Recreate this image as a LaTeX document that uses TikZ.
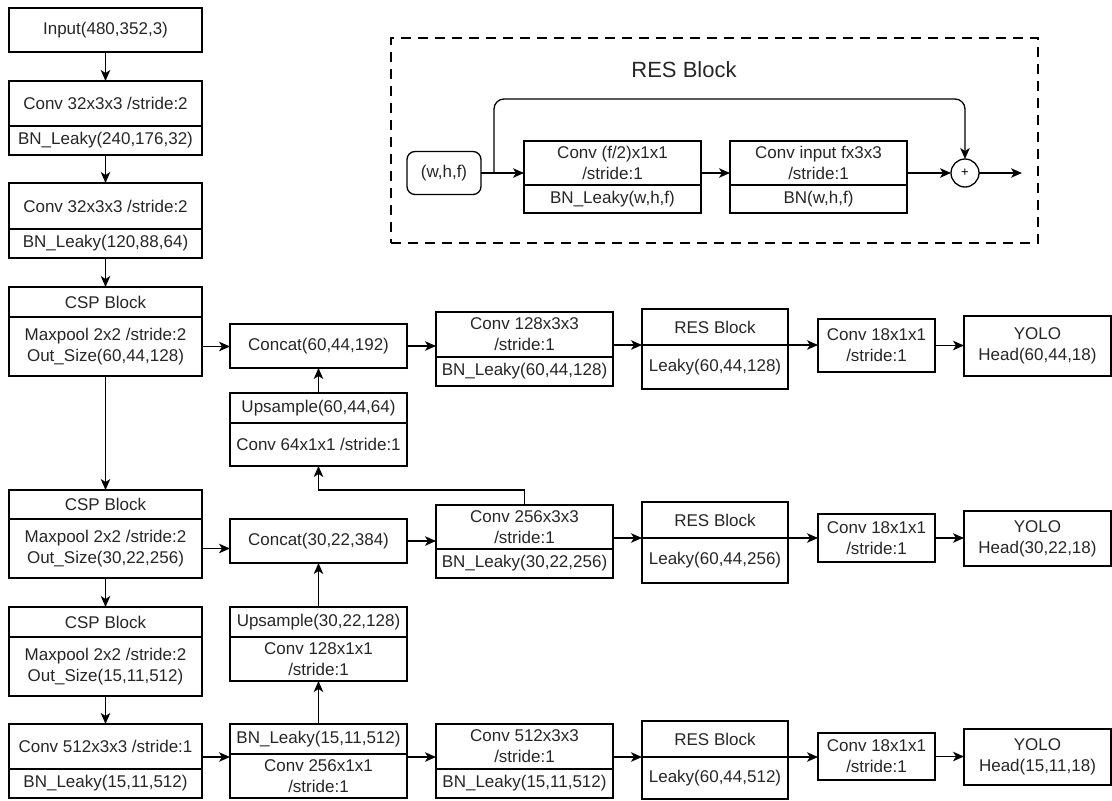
\documentclass[tikz,border=0pt]{standalone}
\usepackage{fontspec}
\setmainfont{Liberation Sans}
\usetikzlibrary{arrows.meta}

% a box split by one horizontal rule: name, x1, y1, y of rule, x2, y2, upper text, lower text
\newcommand\partbox[8]{%
  \node[box, minimum width={(#5-#2)*1pt}, minimum height={(#6-#3)*1pt}] (#1) at ({(#2+#5)/2},{(#3+#6)/2}) {};
  \coordinate (#1-d) at (#2,#4);
  \draw[rule] (#1-d) -- (#1.east |- #1-d);
  \node[lbl] (#1-t) at ({(#2+#5)/2},{(#3+#4)/2}) {#7};
  \node[lbl] (#1-b) at ({(#2+#5)/2},{(#4+#6)/2}) {#8};
}
% a plain box: name, x1, y1, x2, y2, text
\newcommand\plainbox[6]{%
  \node[box, lbl, minimum width={(#4-#2)*1pt}, minimum height={(#5-#3)*1pt}] (#1) at ({(#2+#4)/2},{(#3+#5)/2}) {#6};
}

\begin{document}
\begin{tikzpicture}[x=1pt, y=-1pt,
  box/.style={draw, line width=1.3pt, rectangle, inner sep=0pt, outer sep=0pt},
  rule/.style={line width=1.3pt},
  lbl/.style={font=\fontsize{17}{21}\selectfont, align=center, inner sep=0pt, text=black!85},
  arr/.style={line width=1.3pt, -{Stealth[length=11pt, width=9.5pt, inset=3pt]}},
]
\useasboundingbox (0,0) rectangle (1112,801);

% ---------------- backbone ----------------
\plainbox{in}{9}{8}{202}{52}{Input(480,352,3)}
\partbox{c1}{9}{81}{126}{202}{155}{Conv 32x3x3 /stride:2}{BN\_Leaky(240,176,32)}
\partbox{c2}{9}{183}{229}{202}{258}{Conv 32x3x3 /stride:2}{BN\_Leaky(120,88,64)}
\partbox{csp1}{9}{287}{317}{202}{376}{CSP Block}{Maxpool 2x2 /stride:2\\Out\_Size(60,44,128)}
\partbox{csp2}{9}{490}{519}{202}{578}{CSP Block}{Maxpool 2x2 /stride:2\\Out\_Size(30,22,256)}
\partbox{csp3}{9}{607}{637}{202}{696}{CSP Block}{Maxpool 2x2 /stride:2\\Out\_Size(15,11,512)}
\partbox{c512}{9}{724}{769}{202}{798}{Conv 512x3x3 /stride:1}{BN\_Leaky(15,11,512)}

% ---------------- neck ----------------
\plainbox{cat1}{230}{324}{407}{368}{Concat(60,44,192)}
\partbox{up1}{230}{393}{423}{407}{466}{Upsample(60,44,64)}{Conv 64x1x1 /stride:1}
\plainbox{cat2}{230}{519}{407}{563}{Concat(30,22,384)}
\partbox{up2}{230}{607}{637}{407}{681}{Upsample(30,22,128)}{Conv 128x1x1\\/stride:1}
\partbox{bn}{230}{724}{754}{407}{798}{BN\_Leaky(15,11,512)}{Conv 256x1x1\\/stride:1}

\partbox{cv128}{436}{312}{357}{613}{386}{Conv 128x3x3\\/stride:1}{BN\_Leaky(60,44,128)}
\partbox{cv256}{436}{505}{549}{613}{578}{Conv 256x3x3\\/stride:1}{BN\_Leaky(30,22,256)}
\partbox{cv512}{436}{724}{769}{613}{798}{Conv 512x3x3\\/stride:1}{BN\_Leaky(15,11,512)}

% ---------------- heads ----------------
\partbox{res1}{642}{309}{345}{788}{389}{RES Block}{Leaky(60,44,128)}
\partbox{res2}{642}{502}{538}{788}{583}{RES Block}{Leaky(60,44,256)}
\partbox{res3}{642}{721}{757}{788}{799}{RES Block}{Leaky(60,44,512)}

\plainbox{h1c}{818}{319}{935}{372}{Conv 18x1x1\\/stride:1}
\plainbox{h2c}{818}{514}{935}{562}{Conv 18x1x1\\/stride:1}
\plainbox{h3c}{818}{733}{935}{780}{Conv 18x1x1\\/stride:1}

\plainbox{y1}{964}{316}{1111}{376}{YOLO\\Head(60,44,18)}
\plainbox{y2}{964}{511}{1111}{566}{YOLO\\Head(30,22,18)}
\plainbox{y3}{964}{729}{1111}{785}{YOLO\\Head(15,11,18)}

% ---------------- backbone connectors ----------------
\draw[arr] (in) -- (c1);
\draw[arr] (c1) -- (c2);
\draw[arr] (c2) -- (csp1);
\draw[arr] (csp1) -- (csp2);
\draw[arr] (csp2) -- (csp3);
\draw[arr] (csp3) -- (c512);

% ---------------- neck connectors ----------------
\coordinate (row3) at (0,757);
\draw[arr] (csp1.east |- csp1-b) -- (cat1.west |- csp1-b);
\draw[arr] (csp2.east |- csp2-b) -- (cat2.west |- csp2-b);
\draw[arr] (c512.east |- row3) -- (bn.west |- row3);
\draw[arr] (cat1) -- (cv128.west |- cat1);
\draw[arr] (cat2) -- (cv256.west |- cat2);
\draw[arr] (bn.east |- row3) -- (cv512.west |- row3);
\draw[arr] (up1) -- (cat1);
\draw[arr] (up2) -- (cat2);
\draw[arr] (bn) -- (up2);
\draw[arr] (cv256.north) -- ++(0,-15) -| (up1.south);

% ---------------- head connectors ----------------
\draw[arr] (cv128.east |- res1-d) -- (res1-d);
\draw[arr] (res1-d) -- (h1c.west |- res1-d);
\draw[arr] (h1c.east) -- (y1.west |- h1c.east);
\draw[arr] (cv256.east |- res2-d) -- (res2-d);
\draw[arr] (res2-d) -- (h2c.west |- res2-d);
\draw[arr] (h2c.east) -- (y2.west |- h2c.east);
\draw[arr] (cv512.east |- res3-d) -- (res3-d);
\draw[arr] (res3-d) -- (h3c.west |- res3-d);
\draw[arr] (h3c.east) -- (y3.west |- h3c.east);

% ---------------- residual block detail ----------------
\node[draw, line width=2.3pt, dash pattern=on 10pt off 7pt, inner sep=0pt,
      minimum width=647pt, minimum height=205pt] (frame) at (714.5,140.5) {};
\node[font=\fontsize{22}{26}\selectfont, text=black!85] (rtitle) at (684,70) {RES Block};
\node[box, lbl, rounded corners=8pt, minimum width=74pt, minimum height=43pt] (wh) at (444,173) {(w,h,f)};
\partbox{rc1}{524}{141}{185}{701}{213}{Conv (f/2)x1x1\\/stride:1}{BN\_Leaky(w,h,f)}
\partbox{rc2}{730}{141}{185}{907}{213}{Conv input fx3x3\\/stride:1}{BN(w,h,f)}
\node[draw, circle, line width=1.3pt, minimum size=28pt, inner sep=0pt, outer sep=0pt,
      font=\fontsize{13}{13}\selectfont] (plus) at (965,173) {+};
\coordinate (split) at (494,173);
\coordinate (skipL) at (494,99);
\coordinate (skipR) at (965,99);
\coordinate (out) at (1022,173);
\draw[arr] (wh) -- (rc1.west |- wh);
\draw[arr, rounded corners=10pt] (split) -- (skipL) -- (skipR) -- (plus.north);
\draw[arr] (rc1.east |- wh) -- (rc2.west |- wh);
\draw[arr] (rc2.east |- plus) -- (plus);
\draw[arr] (plus) -- (out);
\end{tikzpicture}
\end{document}
